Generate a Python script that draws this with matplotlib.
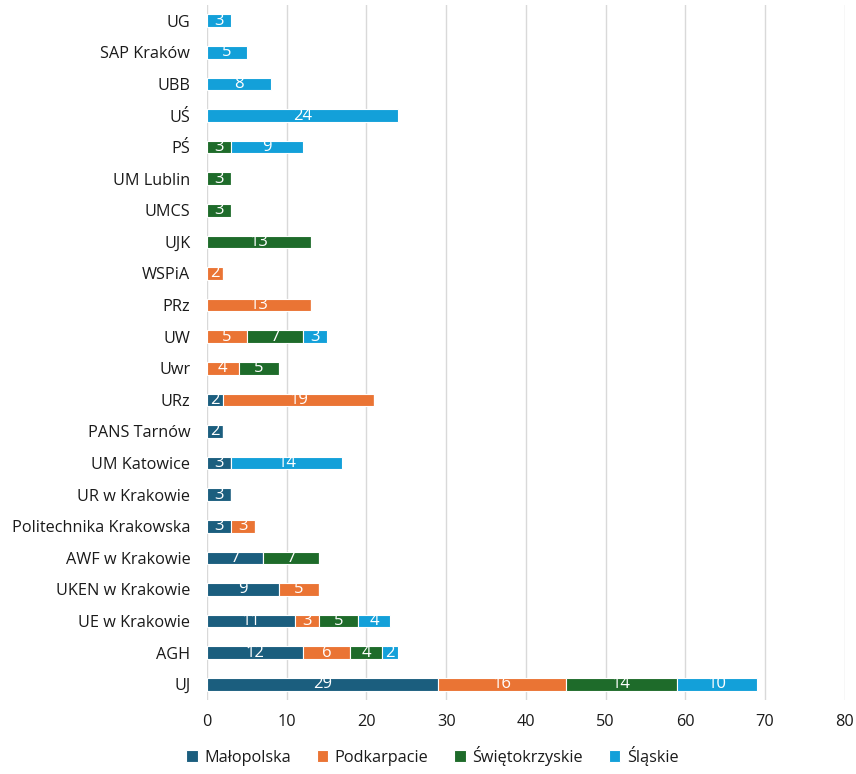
import matplotlib
matplotlib.use("Agg")
import matplotlib.pyplot as plt
import numpy as np

plt.rcParams["font.family"] = ["Open Sans", "DejaVu Sans"]

universities = [
    "UJ", "AGH", "UE w Krakowie", "UKEN w Krakowie", "AWF w Krakowie",
    "Politechnika Krakowska", "UR w Krakowie", "UM Katowice", "PANS Tarnów",
    "URz", "Uwr", "UW", "PRz", "WSPiA", "UJK", "UMCS", "UM Lublin", "PŚ",
    "UŚ", "UBB", "SAP Kraków", "UG",
]
malopolska = [29, 12, 11, 9, 7, 3, 3, 3, 2, 2, 0, 0, 0, 0, 0, 0, 0, 0, 0, 0, 0, 0]
podkarpacie = [16, 6, 3, 5, 0, 3, 0, 0, 0, 19, 4, 5, 13, 2, 0, 0, 0, 0, 0, 0, 0, 0]
swietokrzyskie = [14, 4, 5, 0, 7, 0, 0, 0, 0, 0, 5, 7, 0, 0, 13, 3, 3, 3, 0, 0, 0, 0]
slaskie = [10, 2, 4, 0, 0, 0, 0, 14, 0, 0, 0, 3, 0, 0, 0, 0, 0, 9, 24, 8, 5, 3]

series = [
    ("Małopolska", malopolska, "#1b5e7e"),
    ("Podkarpacie", podkarpacie, "#ea7434"),
    ("Świętokrzyskie", swietokrzyskie, "#1e6b2a"),
    ("Śląskie", slaskie, "#13a0d9"),
]

fig = plt.figure(figsize=(8.56, 7.74), dpi=100)
ax = fig.add_axes([0.2418, 0.0956, 0.745, 0.898])

y = np.arange(len(universities))
left = np.zeros(len(universities))
for name, vals, color in series:
    vals = np.array(vals, dtype=float)
    bars = ax.barh(y, vals, left=left, height=0.4, color=color,
                   edgecolor="white", linewidth=0.8, label=name, zorder=3)
    for b, v in zip(bars, vals):
        if v > 0:
            ax.text(b.get_x() + b.get_width() / 2, b.get_y() + b.get_height() / 2,
                    f"{int(v)}", ha="center", va="center", color="white",
                    fontsize=12, zorder=4)
    left += vals

ax.set_xlim(0, 80)
ax.set_ylim(-0.5, len(universities) - 0.5)
ax.set_xticks(range(0, 81, 10))
ax.set_yticks(y)
ax.set_yticklabels(universities)
ax.tick_params(axis="both", length=0, labelsize=11.7, colors="#1a1a1a")
ax.tick_params(axis="y", pad=12)
ax.tick_params(axis="x", pad=10)
ax.grid(axis="x", color="#d9d9d9", linewidth=1, zorder=0)
for s in ax.spines.values():
    s.set_visible(False)

fig.legend(loc="lower center", bbox_to_anchor=(0.505, -0.008), ncol=4,
           frameon=False, fontsize=11.7, handlelength=0.7, handleheight=0.7,
           handletextpad=0.4, columnspacing=1.6, labelcolor="#1a1a1a")

fig.savefig("out.png", dpi=100)
